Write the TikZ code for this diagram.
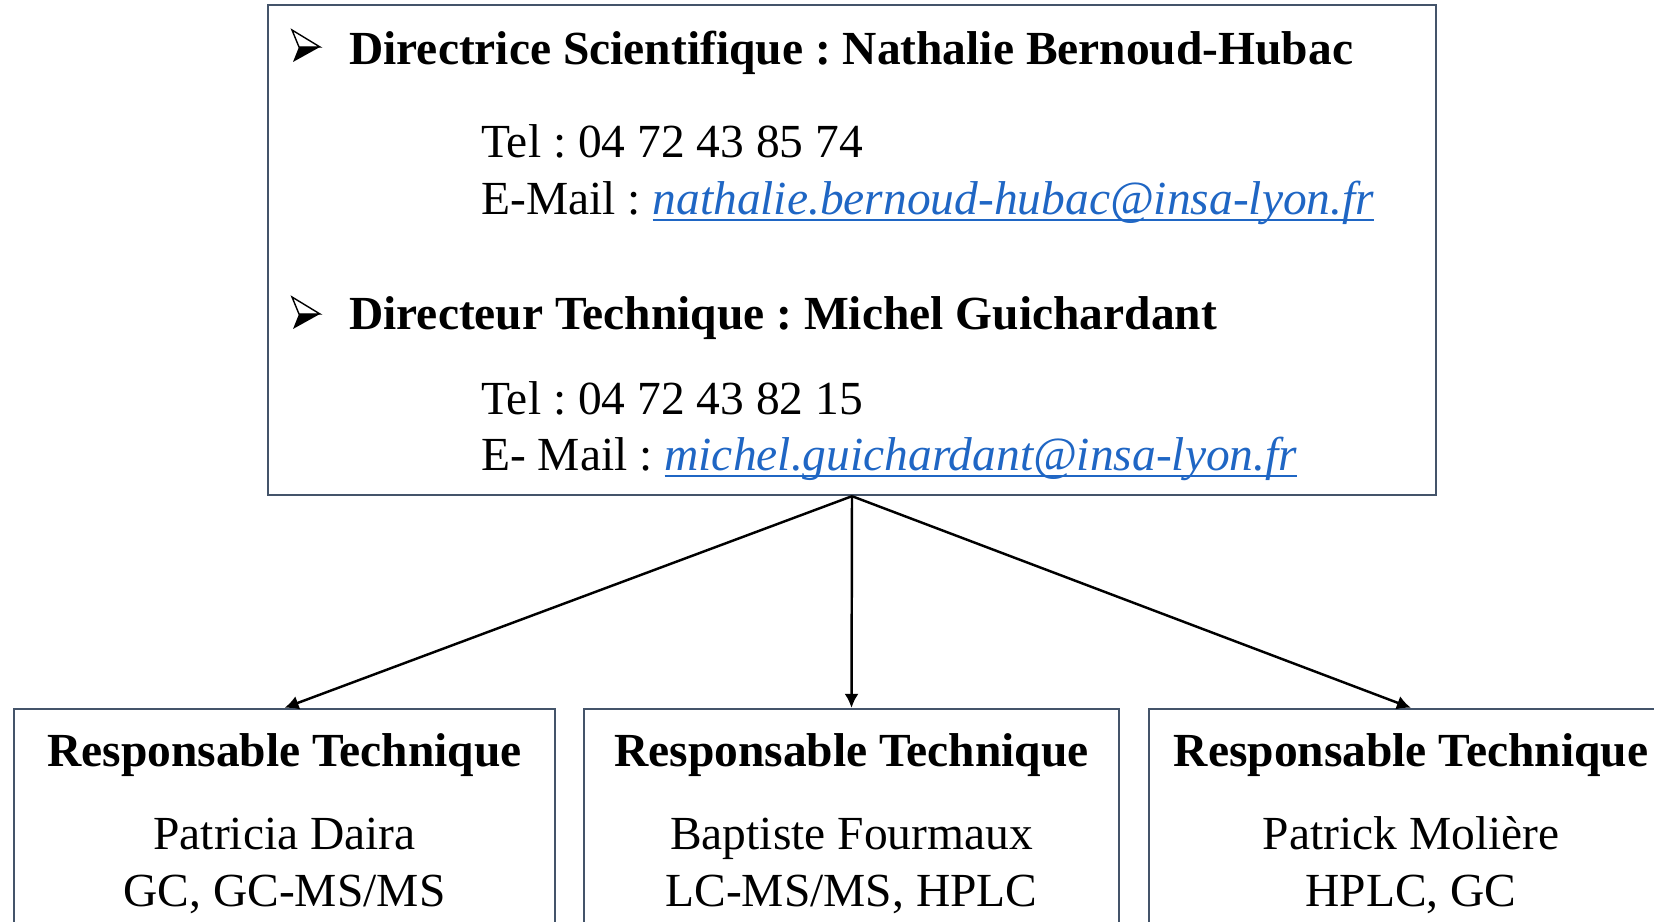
\documentclass[tikz,border=0pt]{standalone}
\usepackage{fontspec}
\setmainfont{Liberation Serif}
\usepackage{tikz}
\usetikzlibrary{arrows.meta}

\definecolor{framegray}{HTML}{44546A}
\definecolor{linkblue}{HTML}{1F66C4}
\newcommand{\mailto}[1]{{\color{linkblue}\setbox0\hbox{\textit{#1}}%
    \rlap{\rule[-1.8pt]{\wd0}{0.6pt}}\box0}}
\frenchspacing

\tikzset{arrowbullet/.pic={
    \draw[-,line width=0.4pt,fill=white] (0,0) -- (28,17) -- (7,17) -- cycle;
    \fill[black] (7,17) -- (28,17) -- (1,32) -- cycle;
  }}

\begin{document}
\begin{tikzpicture}[x=0.01cm,y=-0.01cm,->,>={Latex[length=4pt,width=4pt]},line width=0.7pt]
      \tikzstyle{every node}=[font=\fontsize{13.5}{16}\selectfont]
      \tikzstyle{frame}=[draw=framegray,line width=0.6pt,rectangle,inner sep=0pt]
      \tikzstyle{info}=[anchor=base west,inner sep=0pt]
      \tikzstyle{head}=[info,font=\fontsize{13.5}{16}\selectfont\bfseries]
      \tikzstyle{centred}=[anchor=base,inner sep=0pt]

      \path[use as bounding box] (0,0) rectangle (1654,922);

      % direction
      \node[frame,minimum width=11.68cm,minimum height=4.90cm] (dir) at (852,250) {};
      \pic at (292,30) {arrowbullet};
      \node[head] (sci)    at (348,65)  {Directrice Scientifique : Nathalie Bernoud-Hubac};
      \node[info] (scitel) at (480,158) {Tel : 04 72 43 85 74};
      \node[info] (scimail) at (480,215) {E-Mail : \mailto{nathalie.bernoud-hubac@insa-lyon.fr}};
      \pic at (292,297) {arrowbullet};
      \node[head] (tec)    at (348,330) {Directeur Technique : Michel Guichardant};
      \node[info] (tectel) at (480,415) {Tel : 04 72 43 82 15};
      \node[info] (tecmail) at (480,471) {E- Mail : \mailto{michel.guichardant@insa-lyon.fr}};

      % responsables
      \node[frame,minimum width=5.41cm,minimum height=2.5cm] (resA) at (284.5,834) {};
      \node[frame,minimum width=5.35cm,minimum height=2.5cm] (resB) at (851.5,834) {};
      \node[frame,minimum width=5.24cm,minimum height=2.5cm] (resC) at (1411,834) {};

      \node[centred,font=\fontsize{13.5}{16}\selectfont\bfseries] at (284.5,767) {Responsable Technique};
      \node[centred] at (284.5,850) {Patricia Daira};
      \node[centred] at (284.5,907) {GC, GC-MS/MS};
      \node[centred,font=\fontsize{13.5}{16}\selectfont\bfseries] at (851.5,767) {Responsable Technique};
      \node[centred] at (851.5,850) {Baptiste Fourmaux};
      \node[centred] at (851.5,907) {LC-MS/MS, HPLC};
      \node[centred,font=\fontsize{13.5}{16}\selectfont\bfseries] at (1411,767) {Responsable Technique};
      \node[centred] at (1411,850) {Patrick Molière};
      \node[centred] at (1411,907) {HPLC, GC};

      \path (dir.south) edge (resA.north)
                        edge (resB.north)
                        edge (resC.north);

\end{tikzpicture}
\end{document}
